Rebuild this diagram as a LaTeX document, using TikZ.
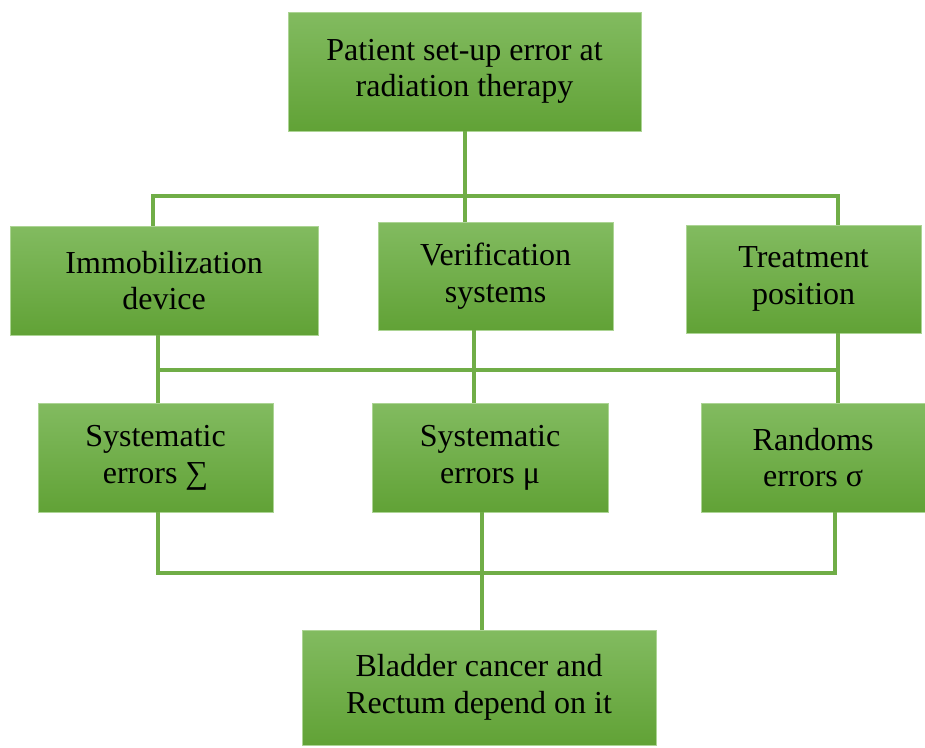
\documentclass[tikz,border=0pt]{standalone}
\usepackage{fontspec}
\setmainfont{Liberation Serif}
\usetikzlibrary{positioning}
\definecolor{boxtop}{RGB}{130,187,96}
\definecolor{boxbottom}{RGB}{97,162,54}
\definecolor{boxedge}{RGB}{172,212,148}
\definecolor{linkgreen}{RGB}{112,173,71}
\tikzstyle{block} = [rectangle, draw=boxedge, line width=0.6pt, top color=boxtop, bottom color=boxbottom, text=black, align=center, inner sep=0pt, font=\fontsize{24}{27.5}\selectfont]
\tikzstyle{line} = [draw=linkgreen, line width=3pt]

\begin{document}
\begin{tikzpicture}[x=0.75pt, y=-0.75pt]
        \useasboundingbox (0,0) rectangle (925,747);

		\node (top) [block, minimum width=264.75pt, minimum height=89.25pt] at (464.5,71.5) {Patient set-up error at\\radiation therapy};
		\node (verif) [block, minimum width=176.25pt, minimum height=81pt, node distance=153.4pt, below of=top, xshift=23.3pt] {Verification\\systems};
		\node (immob) [block, minimum width=231pt, minimum height=81.75pt, node distance=248.6pt, left of=verif, yshift=-3.4pt] {Immobilization\\device};
		\node (treat) [block, minimum width=176.25pt, minimum height=81pt, node distance=231pt, right of=verif, yshift=-2.25pt] {Treatment\\position};
		\node (sysmu) [block, minimum width=177pt, minimum height=81.75pt, node distance=136.1pt, below of=verif, xshift=-4.1pt] {Systematic\\errors μ};
		\node (syss) [block, minimum width=176.25pt, minimum height=81.75pt, node distance=250.9pt, left of=sysmu] {Systematic\\errors ∑};
		\node (rand) [block, minimum width=168pt, minimum height=81.75pt, node distance=242.3pt, right of=sysmu] {Randoms\\errors σ};
		\node (bottom) [block, minimum width=265.5pt, minimum height=86.25pt, node distance=172.5pt, below of=sysmu, xshift=-8.25pt] {Bladder cancer and\\Rectum depend on it};

		 % Draw edges
		 \coordinate (bus1l) at (153,196);
		 \coordinate (bus1r) at (838,196);
		 \coordinate (bus2l) at (158,370);
		 \coordinate (bus2r) at (838,370);
		 \coordinate (bus3l) at (158,573);
		 \coordinate (bus3r) at (835,573);
		 \path [line] (top.south) -- (top.south |- verif.north);
		 \path [line] (bus1l |- immob.north) -- (bus1l) -- (bus1r) -- (bus1r |- treat.north);
		 \path [line] (bus2l) -- (bus2r);
		 \path [line] (immob.south -| bus2l) -- (syss.north -| bus2l);
		 \path [line] ([xshift=-16.1pt]verif.south) -- ([xshift=-16.1pt]verif.south |- sysmu.north);
		 \path [line] (treat.south -| bus2r) -- (rand.north -| bus2r);
		 \path [line] (syss.south -| bus3l) -- (bus3l) -- (bus3r) -- (rand.south -| bus3r);
		 \path [line] ([xshift=-6pt]sysmu.south) -- ([xshift=-6pt]sysmu.south |- bottom.north);

\end{tikzpicture}
\end{document}
